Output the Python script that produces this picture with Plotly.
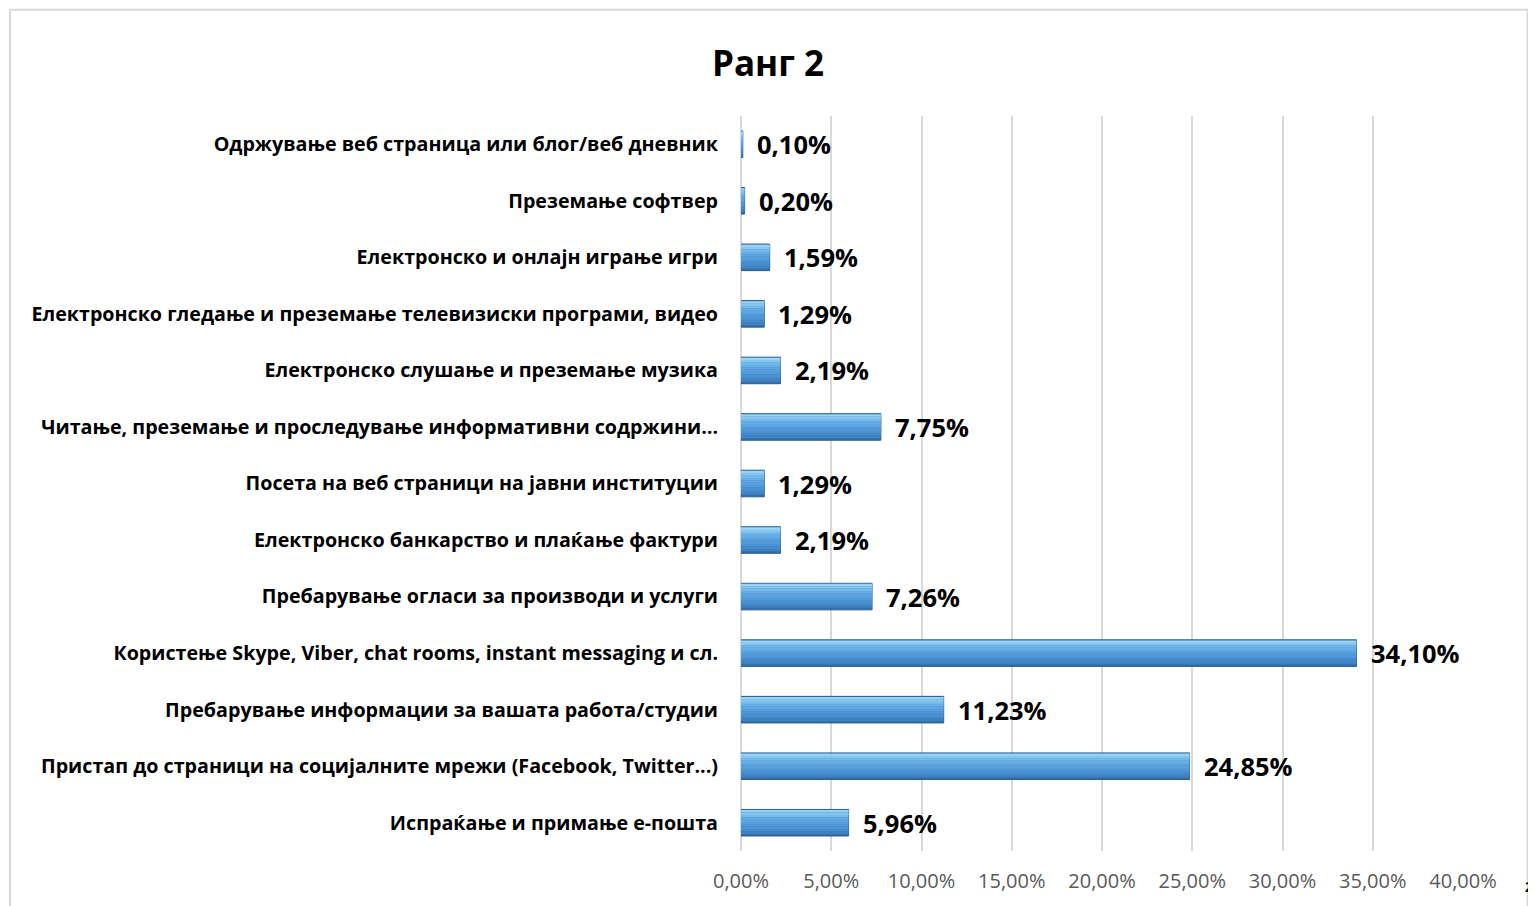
import plotly.graph_objects as go

title = "Ранг 2"
categories = [
    "Одржување веб страница или блог/веб дневник",
    "Преземање софтвер",
    "Електронско и онлајн играње игри",
    "Електронско гледање и преземање телевизиски програми, видео",
    "Електронско слушање и преземање музика",
    "Читање, преземање и проследување информативни содржини…",
    "Посета на веб страници на јавни институции",
    "Електронско банкарство и плаќање фактури",
    "Пребарување огласи за производи и услуги",
    "Користење Skype, Viber, chat rooms, instant messaging и сл.",
    "Пребарување информации за вашата работа/студии",
    "Пристап до страници на социјалните мрежи (Facebook, Twitter...)",
    "Испраќање и примање е-пошта",
]
values = [0.10, 0.20, 1.59, 1.29, 2.19, 7.75, 1.29, 2.19, 7.26, 34.10, 11.23, 24.85, 5.96]
tick_values = [0, 5, 10, 15, 20, 25, 30, 35, 40]
tick_labels = ["0,00%", "5,00%", "10,00%", "15,00%", "20,00%", "25,00%", "30,00%", "35,00%", "40,00%"]
value_labels = [f"{v:.2f}".replace(".", ",") + "%" for v in values]

# gradient band colours for the bar shading (top -> bottom)
band_colors = ["#9ad3f5", "#86c6f0", "#74baeb", "#66afe6", "#5da7e2",
               "#57a0dd", "#5199d8", "#4b92d2", "#458acb", "#3f82c3"]

fig = go.Figure()

BAR_W = 0.47
TOP = -BAR_W / 2  # reversed axis: smaller value is visually on top

# base bar with dark edge
fig.add_trace(go.Bar(
    y=categories, x=values, orientation="h",
    width=BAR_W, offset=TOP,
    marker=dict(color="#336fa9", line=dict(color="#2b5f93", width=1)),
    hovertemplate="%{y}: %{x:.2f}%<extra></extra>", showlegend=False,
))
inner_top = TOP + 0.01
inner_h = BAR_W - 0.05
band_h = inner_h / len(band_colors)
for i, col in enumerate(band_colors):
    fig.add_trace(go.Bar(
        y=categories, x=values, orientation="h",
        width=band_h + 0.004, offset=inner_top + i * band_h,
        marker=dict(color=col, line=dict(width=0)),
        hoverinfo="skip", showlegend=False,
    ))

for c, v, lab in zip(categories, values, value_labels):
    fig.add_annotation(
        x=v, y=c, text=f"<b>{lab}</b>", showarrow=False,
        xanchor="left", yanchor="middle", xshift=12,
        font=dict(family="Open Sans", size=25.5, color="#000000"),
    )

# chart border
fig.add_shape(type="rect", xref="paper", yref="paper",
              x0=-1.0125, x1=1.0895, y0=-0.2, y1=1.1445,
              line=dict(color="#d9d9d9", width=2), fillcolor="rgba(0,0,0,0)", layer="below")

# page number at the right edge
fig.add_annotation(xref="paper", yref="paper", x=1.1, y=-0.048, text="<b>2</b>",
                   showarrow=False, xanchor="right", yanchor="middle",
                   font=dict(family="Open Sans", size=14, color="#000000"))

fig.update_layout(
    width=1536, height=906,
    margin=dict(l=733, r=81, t=108, b=63),
    paper_bgcolor="white", plot_bgcolor="white",
    barmode="overlay",
    title=dict(text=f"<b>{title}</b>", x=0.4948, xref="container", xanchor="center",
               y=0.938, yanchor="middle",
               font=dict(family="Open Sans", size=35, color="#000000")),
    xaxis=dict(range=[0, 40], tickvals=tick_values, ticktext=tick_labels,
               showgrid=True, gridcolor="#d9d9d9", gridwidth=2,
               zeroline=True, zerolinecolor="#d9d9d9", zerolinewidth=2,
               showline=False, ticks="", ticklabelstandoff=16,
               tickfont=dict(family="Open Sans", size=20, color="#595959")),
    yaxis=dict(autorange="reversed", showgrid=False, showline=False, ticks="",
               ticklabelstandoff=22,
               tickfont=dict(family="Open Sans", size=19.7, color="#000000")),
    font=dict(family="Open Sans"),
)
fig.update_yaxes(tickprefix="<b>", ticksuffix="</b>")

fig.write_html("out.html")
